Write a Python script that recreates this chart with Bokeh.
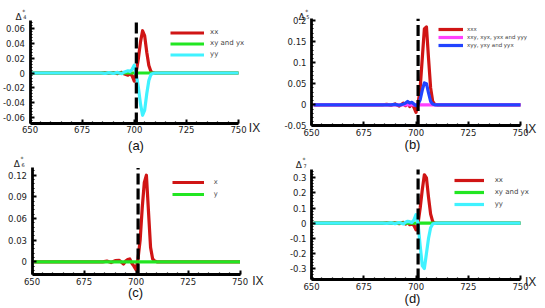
from bokeh.plotting import figure
from bokeh.models import Range1d, FixedTicker, Label, Legend, LegendItem
from bokeh.layouts import column, row
from bokeh.embed import file_html
from bokeh.resources import INLINE

# ---------------- data ----------------
ix = [651, 684, 686, 688, 690, 692, 694, 695, 696, 697, 698, 699, 700,
      701, 702, 703, 704, 705, 706, 707, 708, 709, 710, 750]

zeros = [0, 0, 0, 0, 0, 0, 0, 0, 0, 0, 0, 0, 0,
         0, 0, 0, 0, 0, 0, 0, 0, 0, 0, 0]

a_xx = [0, 0, 0.0004, -0.0004, 0.0006, -0.0008, 0.001, -0.001, -0.002, -0.003, -0.001, -0.004, -0.011,
        0.002, 0.02, 0.042, 0.057, 0.05, 0.028, 0.01, 0.002, 0.0005, 0, 0]
a_xy = zeros
a_yy = [0, 0, -0.0004, 0.0004, -0.0006, 0.0008, -0.001, 0.001, 0.002, 0.003, 0.002, 0.005, 0.0105,
        -0.002, -0.02, -0.042, -0.057, -0.05, -0.028, -0.01, -0.002, -0.0005, 0, 0]

b_xxx = [0, 0, 0.001, -0.001, 0.002, -0.003, 0.004, -0.002, 0.006, -0.004, 0.003, -0.006, -0.018,
         0.003, 0.04, 0.11, 0.18, 0.185, 0.11, 0.04, 0.008, 0.001, 0, 0]
b_xxy = zeros
b_xyy = [0, 0, 0, 0, 0.001, -0.001, 0.002, 0.004, 0.008, 0.004, 0.006, 0.002, -0.002,
         0.002, 0.012, 0.035, 0.052, 0.05, 0.028, 0.008, 0.002, 0, 0, 0]

c_x = [0, 0, 0.001, -0.001, 0.0015, 0.002, -0.003, 0.001, 0.003, 0.004, -0.002, -0.006, -0.011,
       0.005, 0.03, 0.075, 0.11, 0.12, 0.07, 0.02, 0.004, 0.001, 0, 0]
c_y = zeros

d_xx = [0, 0, 0.002, -0.002, 0.003, -0.004, 0.005, -0.006, 0.008, -0.01, -0.005, -0.015, -0.045,
        0.0, 0.1, 0.22, 0.32, 0.3, 0.17, 0.06, 0.01, 0.002, 0, 0]
d_xy = zeros
d_yy = [0, 0, -0.002, 0.002, -0.003, 0.004, -0.005, 0.006, 0.012, 0.01, 0.005, 0.02, 0.056,
        -0.005, -0.15, -0.28, -0.3, -0.2, -0.1, -0.03, -0.006, -0.001, 0, 0]

x_lo, x_hi = 650, 750
x_ticks = [650, 675, 700, 725, 750]
x_minor = [650, 655, 660, 665, 670, 675, 680, 685, 690, 695, 700, 705, 710,
           715, 720, 725, 730, 735, 740, 745, 750]
interface_ix = 701

a_yticks = [-0.06, -0.04, -0.02, 0, 0.02, 0.04, 0.06]
a_ylabels = ["-0.06", "-0.04", "-0.02", "0", "0.02", "0.04", "0.06"]
b_yticks = [-0.05, 0, 0.05, 0.1, 0.15, 0.2]
b_ylabels = ["-0.05", "0", "0.05", "0.1", "0.15", "0.2"]
c_yticks = [0, 0.03, 0.06, 0.09, 0.12]
c_ylabels = ["0", "0.03", "0.06", "0.09", "0.12"]
d_yticks = [-0.3, -0.2, -0.1, 0, 0.1, 0.2, 0.3]
d_ylabels = ["-0.3", "-0.2", "-0.1", "0", "0.1", "0.2", "0.3"]

RED = "#d01515"
GREEN = "#22e622"
CYAN = "#40f2ff"
MAGENTA = "#ff40ff"
BLUE = "#2244ff"

TICK_FONT = "DejaVu Sans"
CAP_FONT = "Liberation Sans"

H = 154


def minor_list(lo, hi, step):
    out = []
    n = int(round((hi - lo) / step))
    for i in range(n + 1):
        out.append(round(lo + i * step, 6))
    return out


def panel(cfg):
    W = cfg["w"]
    x0p, x1p = cfg["x650"], cfg["x750"]
    kx = (x1p - x0p) / (x_hi - x_lo)
    xs = x_lo - x0p / kx
    xe = xs + W / kx
    (va, ya), (vb, yb) = cfg["yanchor"]
    ky = (yb - ya) / (va - vb)
    ye = va + ya / ky
    ys = ye - H / ky

    def X(px):
        return xs + px / kx

    def Y(py):
        return ye - py / ky

    ylo, yhi = cfg["yr"]
    p = figure(width=W, height=H, title=None,
               x_range=Range1d(xs, xe), y_range=Range1d(ys, ye),
               output_backend="svg", toolbar_location=None, min_border=0)
    p.outline_line_color = None
    p.grid.visible = False
    p.background_fill_color = "white"
    p.border_fill_color = "white"

    p.xaxis.fixed_location = ylo
    p.xaxis.bounds = (x_lo, x_hi)
    p.yaxis.fixed_location = x_lo
    p.yaxis.bounds = (ylo, yhi)

    p.xaxis.ticker = FixedTicker(ticks=x_ticks, minor_ticks=x_minor)
    p.yaxis.ticker = FixedTicker(ticks=cfg["yticks"], minor_ticks=cfg["yminor"])
    p.yaxis.major_label_overrides = {t: l for t, l in zip(cfg["yticks"], cfg["ylabels"])}
    for ax in (p.xaxis, p.yaxis):
        ax.axis_line_width = 2.8
        ax.axis_line_color = "black"
        ax.major_tick_in = 4
        ax.major_tick_out = 0
        ax.minor_tick_in = 2
        ax.minor_tick_out = 0
        ax.major_tick_line_width = 2
        ax.minor_tick_line_width = 1.2
        ax.major_label_text_font = TICK_FONT
        ax.major_label_text_font_size = "8.5px"
        ax.major_label_text_color = "#222222"
    p.yaxis.major_label_standoff = 5
    p.xaxis.major_label_standoff = 3

    renderers = []
    for ys_, col in zip(cfg["series"], cfg["colors"]):
        r = p.line(ix, ys_, line_color=col, line_width=3.2, line_join="round")
        renderers.append(r)

    # interface (dashed vertical line across the axis range)
    p.segment(x0=[interface_ix], y0=[ylo], x1=[interface_ix], y1=[yhi],
              line_color="black", line_width=3.2, line_dash="11 4")

    n = len(cfg["labels"])
    gh = cfg["gh"]
    top = cfg["row1"] - gh / 2
    lg = Legend(items=[LegendItem(label=lab, renderers=[r]) for lab, r in zip(cfg["labels"], renderers)],
                location=(cfg["legx"], H - top - n * gh), padding=0, margin=0, spacing=0,
                glyph_width=cfg["gw"], glyph_height=gh, label_height=gh,
                label_standoff=cfg["ls"], label_text_font=TICK_FONT,
                label_text_font_size=cfg["lfs"], label_text_color="#444444",
                border_line_color=None, background_fill_alpha=0)
    p.add_layout(lg)

    dl, db = cfg["delta"]
    p.add_layout(Label(x=X(dl), y=Y(db), text="Δ", text_font=TICK_FONT, text_font_size="9px",
                       text_color="#222222", text_align="left", text_baseline="alphabetic"))
    p.add_layout(Label(x=X(dl + 7.7), y=Y(db + 0.7), text=cfg["sub"], text_font=TICK_FONT,
                       text_font_size="5px", text_color="#222222", text_align="left",
                       text_baseline="alphabetic"))
    p.add_layout(Label(x=X(dl + 6.7), y=Y(db - 5.5), text="*", text_font=TICK_FONT,
                       text_font_size="6px", text_color="#222222", text_align="left",
                       text_baseline="alphabetic"))
    ixl, ixy = cfg["ixlab"]
    p.add_layout(Label(x=X(ixl), y=Y(ixy), text="IX", text_font=CAP_FONT, text_font_size="12px",
                       text_color="#222222", text_align="left", text_baseline="middle"))
    cx, cy = cfg["capxy"]
    p.add_layout(Label(x=X(cx), y=Y(cy), text=cfg["cap"], text_font=CAP_FONT,
                       text_font_size="13px", text_color="#111111", text_align="center",
                       text_baseline="middle"))
    return p


pa = panel(dict(w=272, x650=29.5, x750=238, yanchor=((0.06, 28), (-0.06, 117)), yr=(-0.068, 0.0708),
                yticks=a_yticks, ylabels=a_ylabels, yminor=minor_list(-0.068, 0.068, 0.004),
                series=[a_xx, a_xy, a_yy], colors=[RED, GREEN, CYAN],
                labels=["xx", "xy and yx", "yy"], legx=170, row1=32.3,
                gw=34, gh=11, ls=6, lfs="7px", sub="4", delta=(15, 16),
                ixlab=(248.3, 127.5), cap="(a)", capxy=(135.5, 145)))

pb = panel(dict(w=273, x650=39, x750=248, yanchor=((0.2, 20), (0, 104.3)), yr=(-0.05, 0.204),
                yticks=b_yticks, ylabels=b_ylabels, yminor=minor_list(-0.05, 0.2, 0.01),
                series=[b_xxx, b_xxy, b_xyy], colors=[RED, MAGENTA, BLUE],
                labels=["xxx", "xxy, xyx, yxx and yyy", "xyy, yxy and yyx"], legx=166, row1=29.3,
                gw=25, gh=8, ls=4, lfs="5.5px", sub="5", delta=(26, 16),
                ixlab=(252.5, 128.3), cap="(b)", capxy=(140, 144)))

pc = panel(dict(w=272, x650=31.5, x750=239.5, yanchor=((0.12, 20.7), (0, 107.3)), yr=(-0.0176, 0.13),
                yticks=c_yticks, ylabels=c_ylabels, yminor=minor_list(-0.012, 0.126, 0.006),
                series=[c_x, c_y], colors=[RED, GREEN],
                labels=["x", "y"], legx=171.7, row1=28.3,
                gw=32, gh=12, ls=10, lfs="6.7px", sub="6", delta=(13.3, 9.3),
                ixlab=(251.7, 126), cap="(c)", capxy=(135, 138.3)))

pd_ = panel(dict(w=273, x650=39, x750=248, yanchor=((0.3, 23.3), (-0.3, 114)), yr=(-0.373, 0.355),
                 yticks=d_yticks, ylabels=d_ylabels, yminor=minor_list(-0.36, 0.34, 0.02),
                 series=[d_xx, d_xy, d_yy], colors=[RED, GREEN, CYAN],
                 labels=["xx", "xy and yx", "yy"], legx=181.7, row1=26,
                 gw=30, gh=12, ls=11, lfs="7px", sub="7", delta=(23.3, 10.7),
                 ixlab=(252.5, 127.8), cap="(d)", capxy=(140, 144)))

layout = column(row(pa, pb), row(pc, pd_))
open("out.html", "w").write(file_html(layout, INLINE))
